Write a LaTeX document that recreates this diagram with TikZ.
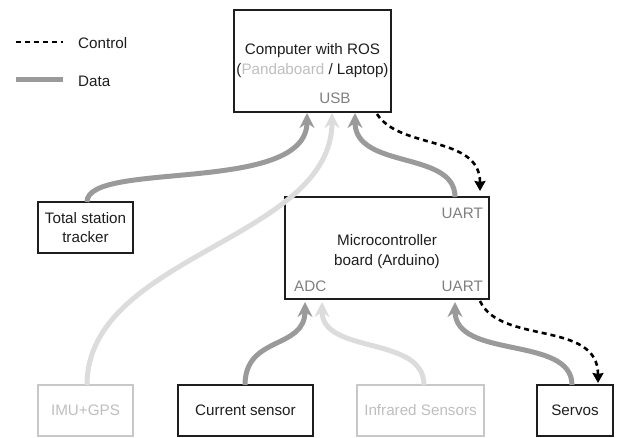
\documentclass[tikz,border=0pt]{standalone}
\usepackage{fontspec}
\setmainfont{Liberation Sans}
\usetikzlibrary{arrows.meta}
\definecolor{dataC}{HTML}{9A9A9A}
\definecolor{lightC}{HTML}{DCDCDC}
\definecolor{txtC}{HTML}{1E1E1E}
\definecolor{portC}{HTML}{808080}
\definecolor{lightTxt}{HTML}{BEBEBE}
\definecolor{lightBorder}{HTML}{C8C8C8}
\tikzset{
  box/.style={draw=txtC, line width=1.3pt, rectangle, inner sep=0pt, text=txtC, font=\fontsize{15.2}{18.5}\selectfont, align=center},
  lightbox/.style={box, draw=lightBorder, text=lightTxt},
  lbl/.style={text=txtC, font=\fontsize{15.2}{20}\selectfont, align=center, inner sep=0pt},
  port/.style={text=portC, font=\fontsize{15.2}{18}\selectfont, inner sep=0pt},
  dataline/.style={draw=dataC, line width=5pt, -{Stealth[length=15pt,width=15pt,inset=5pt]}},
  lightline/.style={dataline, draw=lightC},
  ctrl/.style={draw=black, line width=2.6pt, dash pattern=on 5pt off 4pt, -{Stealth[length=10pt,width=11pt,inset=1pt]}},
}
\begin{document}
\begin{tikzpicture}[x=1pt,y=-1pt]
\useasboundingbox (0,0) rectangle (626,438);
% legend
\coordinate (lc1) at (16,42); \coordinate (lc2) at (63,42);
\coordinate (ld1) at (16,80); \coordinate (ld2) at (63,80);
\draw[draw=black, line width=2.6pt, dash pattern=on 5pt off 4pt] (lc1) -- (lc2);
\draw[draw=dataC, line width=5pt] (ld1) -- (ld2);
\node[port, text=txtC, anchor=west] (lgc) at (78,43) {Control};
\node[port, text=txtC, anchor=west] (lgd) at (78,81) {Data};
% boxes
\node[box, minimum width=157pt, minimum height=102pt] (comp) at (312.5,61) {};
\node[lbl] (compt) at (312.5,61) {Computer with ROS\\(\textcolor{lightTxt}{Pandaboard} / Laptop)};
\node[port] (usb) at (335,98) {USB};
\node[box, minimum width=204pt, minimum height=102pt] (mc) at (387,248) {};
\node[lbl] (mct) at (387,252) {Microcontroller\\board (Arduino)};
\node[port, anchor=east] (uart1) at (483,213) {UART};
\node[port, anchor=east] (uart2) at (483,286) {UART};
\node[port, anchor=west] (adc) at (294,286) {ADC};
\node[box, minimum width=95pt, minimum height=51pt] (ts) at (85.5,227.5) {Total station\\tracker};
\node[lightbox, minimum width=95pt, minimum height=51pt] (imu) at (85.5,410.5) {IMU+GPS};
\node[box, minimum width=135pt, minimum height=51pt] (cur) at (245.5,410.5) {Current sensor};
\node[lightbox, minimum width=127pt, minimum height=51pt] (ir) at (420.5,410.5) {Infrared Sensors};
\node[box, minimum width=76pt, minimum height=51pt] (srv) at (575,410.5) {Servos};
% connector end points
\coordinate (usbA) at (307,113);
\coordinate (usbB) at (332,113);
\coordinate (usbC) at (355,113);
\coordinate (ctl1) at (377,114);
\coordinate (mcUp) at (455,197);
\coordinate (mcCtl) at (480,191);
\coordinate (adcA) at (305,302);
\coordinate (adcB) at (322,302);
\coordinate (uartB) at (455,302);
\coordinate (ctl2) at (480,301);
\coordinate (srvCtl) at (598,383);
\coordinate (imuT) at (87,385);
\coordinate (tsT) at (87,202);
\coordinate (curT) at (245,385);
\coordinate (irT) at (424,385);
\coordinate (srvT) at (572,385);
% connectors
\draw[lightline] (imuT) .. controls (87,255) and (332,240) .. (usbB);
\draw[dataline] (tsT) .. controls (87,160) and (307,195) .. (usbA);
\draw[dataline] (mcUp) .. controls (455,150) and (355,170) .. (usbC);
\draw[ctrl] (ctl1) .. controls (400,150) and (480,135) .. (mcCtl);
\draw[dataline] (curT) .. controls (245,335) and (305,350) .. (adcA);
\draw[lightline] (irT) .. controls (424,335) and (322,355) .. (adcB);
\draw[dataline] (srvT) .. controls (572,335) and (455,360) .. (uartB);
\draw[ctrl] (ctl2) .. controls (500,345) and (598,320) .. (srvCtl);
\end{tikzpicture}
\end{document}
